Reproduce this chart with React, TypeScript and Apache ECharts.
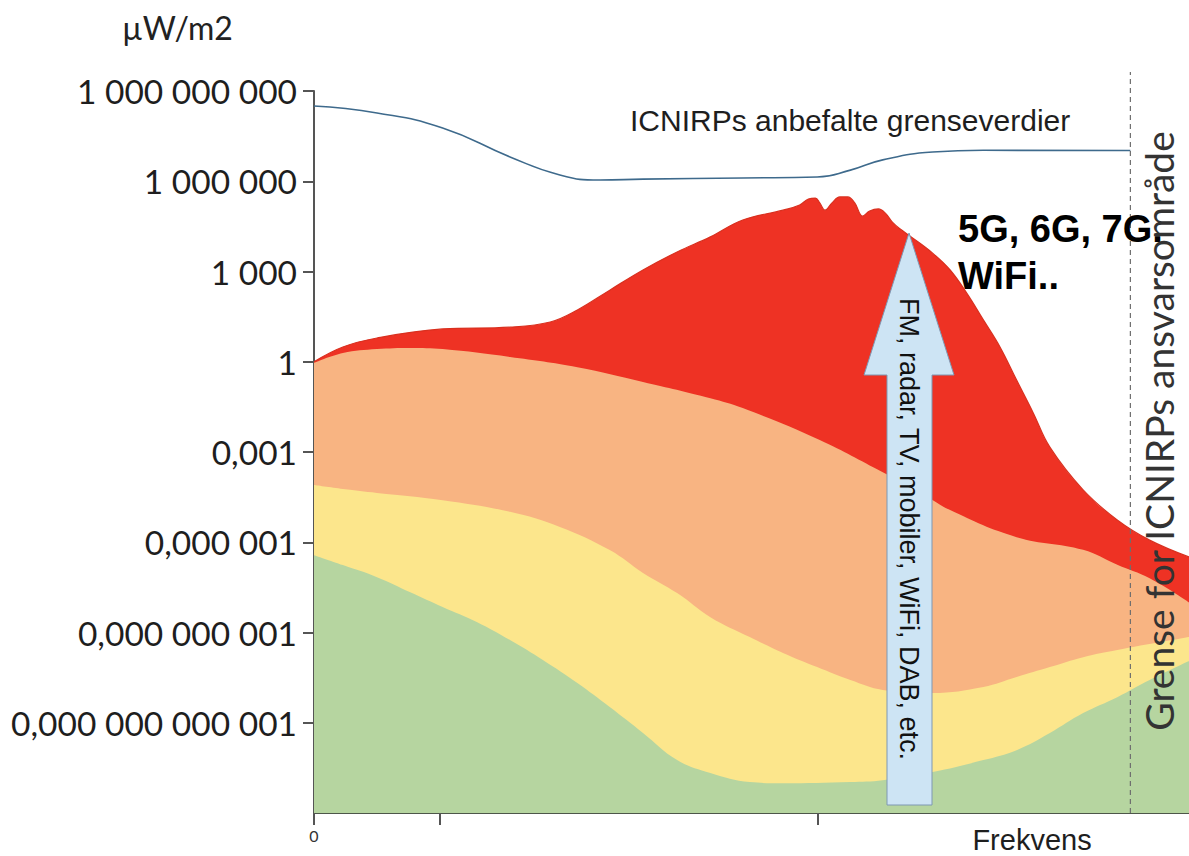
import React, { useEffect, useRef } from 'react';
import * as echarts from 'echarts';

// Frequency axis: relative position, 0 = origin, 100 = right edge of the chart
// Power density values are given as exponents of ten (µW/m²).
const icnirpX = [0, 7.2, 14.7, 22.4, 28.1, 32.7, 37.6, 49.0, 57.5, 61.3, 65.0, 70.7, 76.5, 93.3];
const icnirpExp = [8.5, 8.27, 7.77, 6.81, 6.21, 6.04, 6.07, 6.11, 6.14, 6.37, 6.71, 6.97, 7.03, 7.02];

const typisk2010X = [0, 3.3, 7.2, 14.7, 22.4, 27.0, 30.1, 33.8, 37.6, 41.5, 45.3, 49.0, 53.6, 55.5, 56.5, 57.3, 57.8, 58.4, 59.2, 60.1, 61.0, 61.8, 62.7, 63.5, 64.5, 65.3, 66.1, 67.0, 68.1, 70.7, 72.7, 74.6, 76.5, 78.4, 80.3, 82.2, 84.1, 87.9, 91.8, 95.5, 100];
const typisk2010Exp = [0, 0.49, 0.79, 1.09, 1.15, 1.32, 1.72, 2.38, 3.05, 3.65, 4.15, 4.71, 5.04, 5.21, 5.41, 5.44, 5.28, 5.04, 5.28, 5.48, 5.48, 5.28, 4.84, 5.01, 5.08, 4.94, 4.64, 4.41, 4.18, 3.61, 3.05, 2.28, 1.39, 0.49, -0.61, -1.7, -2.84, -4.26, -5.26, -5.93, -6.49];

const tallet1980X = [0, 3.3, 7.2, 11.0, 14.7, 22.4, 30.1, 37.6, 45.3, 49.0, 57.8, 65.0, 68.9, 72.7, 80.3, 87.9, 91.8, 95.5, 100];
const tallet1980Exp = [-0.04, 0.29, 0.42, 0.46, 0.42, 0.16, -0.18, -0.67, -1.21, -1.54, -2.6, -3.67, -4.26, -4.93, -5.83, -6.25, -6.75, -7.2, -8.0];

const tallet1950X = [0, 3.3, 7.2, 14.7, 22.4, 28.1, 33.8, 37.6, 41.5, 45.3, 49.8, 53.6, 57.5, 61.3, 65.0, 70.7, 76.5, 80.3, 84.1, 87.9, 91.8, 100];
const tallet1950Exp = [-4.1, -4.23, -4.36, -4.6, -4.99, -5.49, -6.26, -7.02, -7.69, -8.49, -9.15, -9.68, -10.15, -10.58, -10.91, -11.01, -10.81, -10.48, -10.15, -9.82, -9.58, -9.15];

const naturligX = [0, 3.3, 7.2, 11.0, 14.7, 18.6, 22.4, 26.2, 30.1, 33.8, 37.6, 41.5, 45.3, 49.8, 53.6, 61.3, 65.0, 70.7, 76.5, 80.3, 84.1, 87.9, 91.8, 95.5, 100];
const naturligExp = [-6.43, -6.76, -7.16, -7.66, -8.15, -8.65, -9.25, -9.92, -10.68, -11.48, -12.34, -13.24, -13.67, -13.97, -14.01, -13.97, -13.91, -13.64, -13.24, -12.91, -12.34, -11.68, -11.15, -10.58, -9.95];

const yMin = 1e-15;
const yMax = 1e9;
const yTickValues = [1e9, 1e6, 1e3, 1, 1e-3, 1e-6, 1e-9, 1e-12];
const yTickExponents = [9, 6, 3, 0, -3, -6, -9, -12];
const yTickLabels = ['1 000 000 000', '1 000 000', '1 000', '1', '0,001', '0,000 001', '0,000 000 001', '0,000 000 000 001'];
const xTickValues = [0, 14.4, 57.6];
const xLabelValues = [0];
const icnirpLimitX = 93.3;

const toPairs = (xs: number[], exps: number[]) => xs.map((x, i) => [x, Math.pow(10, exps[i])]);

export default function App() {
  const ref = useRef<HTMLDivElement>(null);
  useEffect(() => {
    if (!ref.current) return;
    const chart = echarts.init(ref.current, undefined, { renderer: 'svg' });
    const areaBase = {
      type: 'line',
      symbol: 'none',
      showSymbol: false,
      smooth: 0.4,
    };
    const option: any = {
      animation: false,
      backgroundColor: '#ffffff',
      grid: { left: 314, top: 91, width: 875, height: 722, containLabel: false },
      xAxis: {
        type: 'value',
        min: 0,
        max: 100,
        splitLine: { show: false },
        axisLine: { show: true, lineStyle: { color: '#4d5649', width: 2 } },
        axisTick: { show: true, customValues: xTickValues, length: 12, lineStyle: { color: '#555', width: 2 } },
        axisLabel: {
          show: true,
          customValues: xLabelValues,
          formatter: (v: number) => String(v),
          fontFamily: 'Lato',
          fontSize: 16,
          color: '#333',
          margin: 14,
        },
      },
      yAxis: {
        type: 'log',
        logBase: 1000,
        min: yMin,
        max: yMax,
        splitLine: { show: false },
        axisLine: { show: true, lineStyle: { color: '#555', width: 2 } },
        axisTick: { show: true, customValues: yTickValues, length: 11, lineStyle: { color: '#555', width: 2 } },
        axisLabel: {
          show: true,
          customValues: yTickValues,
          formatter: (v: number) => {
            const e = Math.round(Math.log10(v));
            const i = yTickExponents.indexOf(e);
            return i >= 0 ? yTickLabels[i] : '';
          },
          fontFamily: 'Lato',
          fontSize: 33.5,
          color: '#1e1e1e',
          margin: 17,
        },
      },
      series: [
        {
          ...areaBase,
          name: 'Typisk 2010',
          data: toPairs(typisk2010X, typisk2010Exp),
          lineStyle: { color: '#d9301f', width: 1.2 },
          areaStyle: { color: '#ee3224', opacity: 1, origin: 'start' },
        },
        {
          ...areaBase,
          name: '1980-tallet',
          data: toPairs(tallet1980X, tallet1980Exp),
          lineStyle: { width: 0 },
          areaStyle: { color: '#f8b482', opacity: 1, origin: 'start' },
        },
        {
          ...areaBase,
          name: '1950-tallet',
          data: toPairs(tallet1950X, tallet1950Exp),
          lineStyle: { width: 0 },
          areaStyle: { color: '#fce68c', opacity: 1, origin: 'start' },
        },
        {
          ...areaBase,
          name: 'Naturlig',
          data: toPairs(naturligX, naturligExp),
          lineStyle: { width: 0 },
          areaStyle: { color: '#b6d5a0', opacity: 1, origin: 'start' },
        },
        {
          type: 'line',
          name: 'ICNIRPs anbefalte grenseverdier',
          data: toPairs(icnirpX, icnirpExp),
          symbol: 'none',
          showSymbol: false,
          smooth: 0.5,
          lineStyle: { color: '#3e6a8c', width: 1.6 },
        },
        {
          type: 'custom',
          name: 'Grense',
          data: [[icnirpLimitX, 1]],
          clip: false,
          z: 5,
          renderItem: (params: any, api: any) => {
            const b = api.coord([api.value(0), yMin]);
            const t = api.coord([api.value(0), yMax]);
            return {
              type: 'line',
              shape: { x1: b[0], y1: b[1], x2: t[0], y2: t[1] - 19 },
              style: { stroke: '#6e6e6e', lineWidth: 1.2, lineDash: [5, 4] },
            };
          },
        },
      ],
      graphic: [
        {
          type: 'text', x: 122, y: 27,
          style: { text: 'µW/m2', fontFamily: 'Lato', fontSize: 32, fill: '#222', align: 'left', verticalAlign: 'middle' },
        },
        {
          type: 'text', x: 630, y: 120,
          style: { text: 'ICNIRPs anbefalte grenseverdier', fontFamily: 'Liberation Sans', fontSize: 30, fill: '#1e1e1e', align: 'left', verticalAlign: 'middle' },
        },
        {
          type: 'text', x: 716, y: 294,
          style: { text: 'Typisk 2010', fontFamily: 'Liberation Sans', fontSize: 28, fill: '#f9d6cc', align: 'center', verticalAlign: 'middle' },
        },
        {
          type: 'text', x: 558, y: 444,
          style: { text: '1980-tallet', fontFamily: 'Liberation Sans', fontSize: 29, fill: '#1a1a1a', align: 'center', verticalAlign: 'middle' },
        },
        {
          type: 'text', x: 515, y: 577,
          style: { text: '1950-tallet', fontFamily: 'Liberation Sans', fontSize: 29, fill: '#1a1a1a', align: 'center', verticalAlign: 'middle' },
        },
        {
          type: 'text', x: 1032, y: 840,
          style: { text: 'Frekvens', fontFamily: 'Liberation Sans', fontSize: 29, fill: '#1e1e1e', align: 'center', verticalAlign: 'middle' },
        },
        {
          type: 'polygon', z: 10,
          shape: { points: [[909, 233], [954, 375], [932, 375], [932, 805], [887, 805], [887, 375], [864, 375]] },
          style: { fill: '#cde4f4', stroke: '#7f98b3', lineWidth: 1 },
        },
        {
          type: 'text', z: 11, x: 909, y: 529, rotation: -Math.PI / 2,
          style: { text: 'FM, radar, TV, mobiler, WiFi, DAB, etc.', fontFamily: 'Liberation Sans', fontSize: 27, fill: '#111', align: 'center', verticalAlign: 'middle' },
        },
        {
          type: 'text', z: 11, x: 958, y: 229,
          style: { text: '5G, 6G, 7G.', fontFamily: 'Liberation Sans', fontWeight: 'bold', fontSize: 38, fill: '#000', align: 'left', verticalAlign: 'middle' },
        },
        {
          type: 'text', z: 11, x: 958, y: 276,
          style: { text: 'WiFi..', fontFamily: 'Liberation Sans', fontWeight: 'bold', fontSize: 38, fill: '#000', align: 'left', verticalAlign: 'middle' },
        },
        {
          type: 'text', z: 11, x: 1159, y: 431, rotation: Math.PI / 2,
          style: { text: 'Grense for ICNIRPs ansvarsområde', fontFamily: 'Lato', fontSize: 39, fill: '#333', align: 'center', verticalAlign: 'middle' },
        },
      ],
    };
    chart.setOption(option);
    return () => chart.dispose();
  }, []);
  return <div ref={ref} style={{ position: 'absolute', left: 0, top: 0, width: 1189, height: 856 }} />;
}
